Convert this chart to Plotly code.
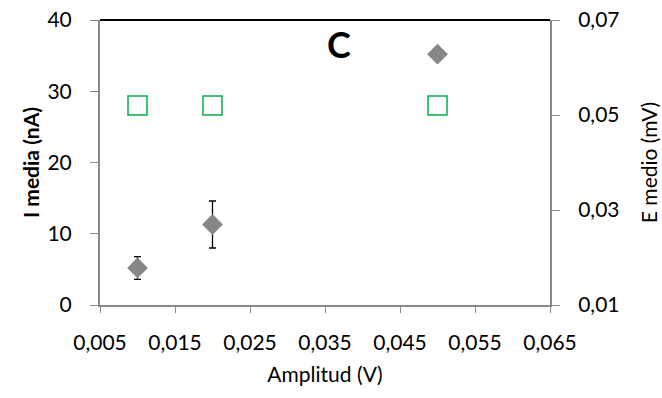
import plotly.graph_objects as go

# Amplitude of the applied signal (V)
amplitud = [0.01, 0.02, 0.05]
# Mean current (nA) with its standard deviation
i_media = [5.2, 11.3, 35.2]
i_err = [1.6, 3.3, 0.7]
# Mean potential (mV)
e_medio = [0.052, 0.052, 0.052]

x_ticks = [0.005, 0.015, 0.025, 0.035, 0.045, 0.055, 0.065]
y1_ticks = [0, 10, 20, 30, 40]
y2_ticks = [0.01, 0.03, 0.05, 0.07]

FONT = "Lato"
AXIS_GRAY = "#898989"

fig = go.Figure()

fig.add_trace(go.Scatter(
    x=amplitud, y=i_media, mode="markers",
    marker=dict(symbol="diamond", size=16, color="#878787"),
    error_y=dict(type="data", array=i_err, visible=True,
                 color="black", thickness=1.3, width=3.5),
    yaxis="y", showlegend=False,
))

fig.add_trace(go.Scatter(
    x=amplitud, y=e_medio, mode="markers",
    marker=dict(symbol="square-open", size=19, color="#00B050",
                line=dict(width=1.5, color="#00B050")),
    yaxis="y2", showlegend=False,
))

tick_font = dict(family=FONT, size=21, color="black")
title_font = dict(family=FONT, size=21, color="black")

fig.update_layout(
    width=662, height=398,
    margin=dict(l=100, r=112, t=20, b=93),
    paper_bgcolor="white", plot_bgcolor="white",
    separators=",.",
    xaxis=dict(
        range=[0.005, 0.065], tickvals=x_ticks, tickformat=".3f",
        showgrid=False, zeroline=False, automargin=False,
        showline=True, linecolor=AXIS_GRAY, linewidth=2,
        ticks="outside", ticklen=6, tickcolor=AXIS_GRAY, tickwidth=1,
        tickfont=tick_font, ticklabelstandoff=12,
        title=dict(text="Amplitud (V)", font=title_font, standoff=14),
    ),
    yaxis=dict(
        range=[0, 40], tickvals=y1_ticks,
        showgrid=False, zeroline=False, automargin=False,
        showline=True, linecolor=AXIS_GRAY, linewidth=2,
        ticks="outside", ticklen=8, tickcolor=AXIS_GRAY, tickwidth=1,
        tickfont=tick_font, ticklabelstandoff=14,
        title=dict(text="<b>I media (nA)</b>", font=title_font, standoff=2),
    ),
    yaxis2=dict(
        range=[0.01, 0.07], tickvals=y2_ticks, tickformat=".2f",
        overlaying="y", side="right",
        showgrid=False, zeroline=False, automargin=False,
        showline=True, linecolor=AXIS_GRAY, linewidth=2,
        ticks="outside", ticklen=8, tickcolor=AXIS_GRAY, tickwidth=1,
        tickfont=tick_font, ticklabelstandoff=14,
        title=dict(text="E medio (mV)", font=title_font, standoff=24),
    ),
    shapes=[dict(type="line", xref="paper", yref="paper",
                 x0=0, x1=1, y0=1, y1=1,
                 line=dict(color="black", width=2))],
    annotations=[dict(text="<b>C</b>", xref="paper", yref="paper",
                      x=0.53, y=0.915, xanchor="center", yanchor="middle",
                      showarrow=False,
                      font=dict(family=FONT, size=36, color="black"))],
)

fig.write_html("out.html")
